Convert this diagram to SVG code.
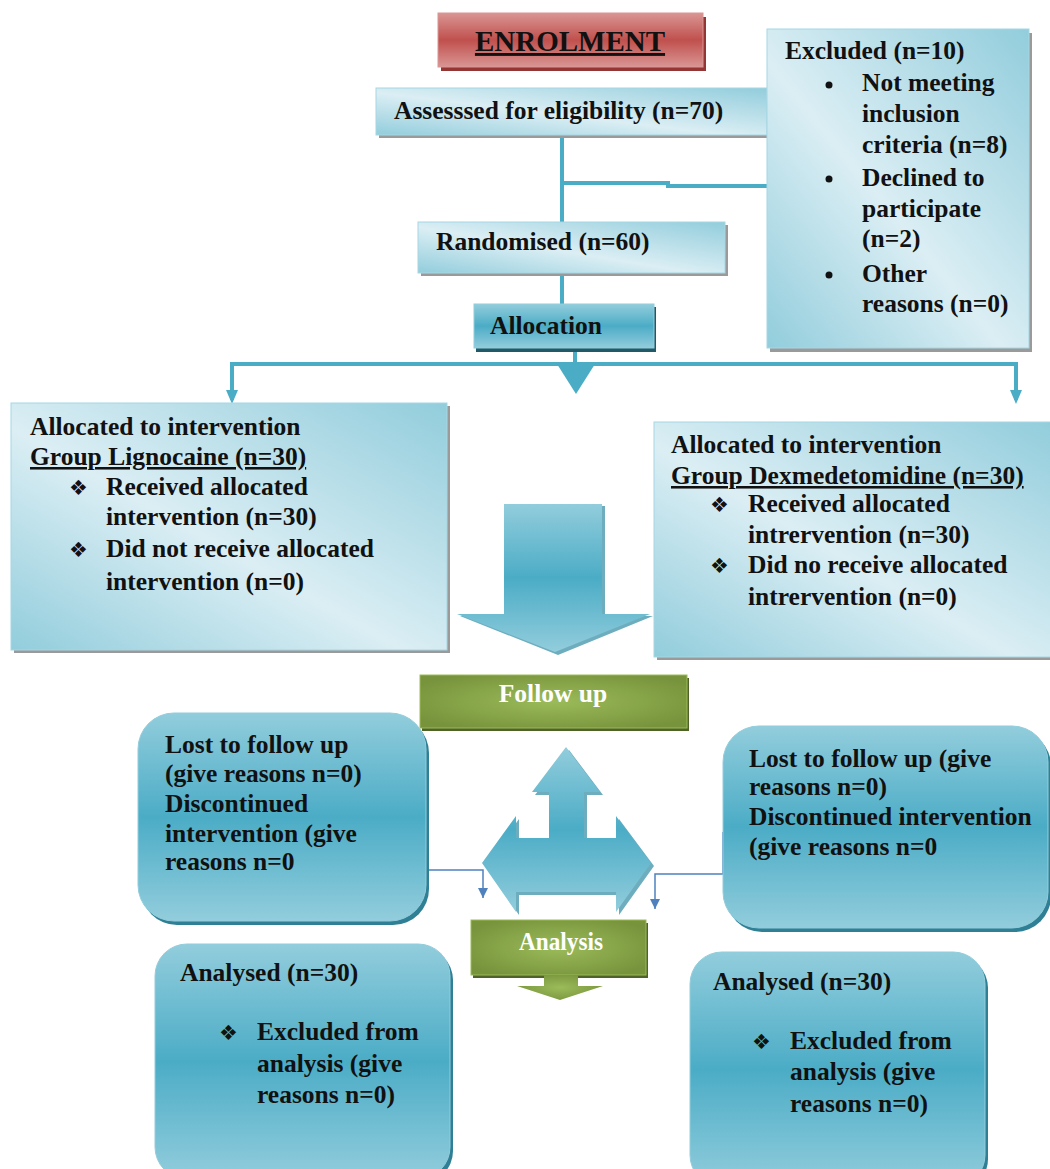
<svg xmlns="http://www.w3.org/2000/svg" width="1050" height="1169" viewBox="0 0 1050 1169">
<defs>
<linearGradient id="gLight" x1="0" y1="1" x2="1" y2="0">
<stop offset="0" stop-color="#92cddc"/>
<stop offset="0.45" stop-color="#dbeef4"/>
<stop offset="1" stop-color="#92cddc"/>
</linearGradient>
<linearGradient id="gMid" x1="0" y1="0" x2="0" y2="1">
<stop offset="0" stop-color="#92cddc"/>
<stop offset="0.5" stop-color="#4bacc6"/>
<stop offset="1" stop-color="#92cddc"/>
</linearGradient>
<linearGradient id="gRed" x1="0" y1="0" x2="0" y2="1">
<stop offset="0" stop-color="#d99694"/>
<stop offset="0.5" stop-color="#c0504d"/>
<stop offset="1" stop-color="#d99694"/>
</linearGradient>
<radialGradient id="gGreen" cx="0.5" cy="0.5" r="0.6">
<stop offset="0" stop-color="#9bbb59"/>
<stop offset="1" stop-color="#77933c"/>
</radialGradient>
<marker id="aThin" viewBox="0 0 10 10" refX="5" refY="10" markerWidth="10" markerHeight="10" markerUnits="userSpaceOnUse">
<path d="M0,0 L10,0 L5,10 Z" fill="#4f81bd"/>
</marker>
</defs>
<style>
text{font-family:"Liberation Serif","Times New Roman",serif;font-weight:bold;font-size:25.5px;fill:#111}
.bul{font-family:"DejaVu Sans",sans-serif;font-size:21px;font-weight:normal}
.wt{fill:#fff}
.u{text-decoration:underline}
.conn{stroke:#4bacc6;stroke-width:4;fill:none}
.thin{stroke:#4f81bd;stroke-width:1.5;fill:none}
.sh{fill:#9a9a9a}
.lt{fill:url(#gLight);stroke:#a6d6e3;stroke-width:1}
.rd{fill:url(#gMid);stroke:#92cddc;stroke-width:1}
</style>
<rect width="1050" height="1169" fill="#fff"/>

<g id="connectors">
<line class="conn" x1="562" y1="135" x2="562" y2="222"/>
<path class="conn" d="M562,183 H668 V186 H767"/>
<line class="conn" x1="562" y1="274" x2="562" y2="304"/>
<line class="conn" x1="575" y1="348" x2="575" y2="365"/>
<path class="conn" d="M232,400 V364 H1016 V400"/>
<path d="M226,390 L238,390 L232,404 Z" fill="#4bacc6"/>
<path d="M1010,390 L1022,390 L1016,404 Z" fill="#4bacc6"/>
<path d="M557,364 L595,364 L576,394 Z" fill="#4bacc6"/>
<path class="thin" d="M428,831 V870 H483 V898" marker-end="url(#aThin)"/>
<path class="thin" d="M723,832 V874 H655 V909" marker-end="url(#aThin)"/>
</g>

<g id="enrolment">
<rect x="441" y="17" width="265" height="54" fill="#943634"/>
<rect x="438" y="13" width="265" height="54" fill="url(#gRed)" stroke="#d99694"/>
<text x="570" y="51" text-anchor="middle" class="u" style="font-size:29px">ENROLMENT</text>
</g>

<g id="assessed">
<rect x="379" y="91" width="391" height="47" class="sh"/>
<rect x="376" y="88" width="391" height="47" fill="url(#gLight)" stroke="#a6d6e3"/>
<text x="394" y="119">Assesssed for eligibility (n=70)</text>
</g>

<g id="excluded">
<rect x="770" y="33" width="262" height="319" class="sh"/>
<rect x="767" y="29" width="262" height="319" class="lt"/>
<text x="785" y="59">Excluded (n=10)</text>
<circle cx="829" cy="85" r="3.5" fill="#111"/>
<circle cx="829" cy="179" r="3.5" fill="#111"/>
<circle cx="829" cy="275" r="3.5" fill="#111"/>
<text x="862" y="91">Not meeting</text>
<text x="862" y="122">inclusion</text>
<text x="862" y="153">criteria (n=8)</text>
<text x="862" y="186">Declined to</text>
<text x="862" y="217">participate</text>
<text x="862" y="247">(n=2)</text>
<text x="862" y="282">Other</text>
<text x="862" y="312">reasons (n=0)</text>
</g>

<g id="randomised">
<rect x="421" y="225" width="307" height="51" class="sh"/>
<rect x="418" y="222" width="307" height="51" class="lt"/>
<text x="436" y="250">Randomised (n=60)</text>
</g>

<g id="allocation">
<rect x="476" y="307" width="180" height="45" fill="#215968"/>
<rect x="474" y="304" width="180" height="44" fill="url(#gMid)" stroke="#92cddc"/>
<text x="490" y="334">Allocation</text>
</g>

<g id="group-lignocaine">
<rect x="14" y="406" width="436" height="247" class="sh"/>
<rect x="11" y="403" width="436" height="247" class="lt"/>
<text x="30" y="435">Allocated to intervention</text>
<text x="30" y="465" class="u">Group Lignocaine (n=30)</text>
<text x="69" y="495" class="bul">❖</text>
<text x="106" y="495">Received allocated</text>
<text x="106" y="525">intervention (n=30)</text>
<text x="69" y="557" class="bul">❖</text>
<text x="106" y="557">Did not receive allocated</text>
<text x="106" y="590">intervention (n=0)</text>
</g>

<g id="group-dexmedetomidine">
<rect x="657" y="425" width="396" height="235" class="sh"/>
<rect x="654" y="422" width="400" height="235" class="lt"/>
<text x="671" y="453">Allocated to intervention</text>
<text x="671" y="484" class="u">Group Dexmedetomidine (n=30)</text>
<text x="710" y="512" class="bul">❖</text>
<text x="748" y="512">Received allocated</text>
<text x="748" y="543">intrervention (n=30)</text>
<text x="710" y="573" class="bul">❖</text>
<text x="748" y="573">Did no receive allocated</text>
<text x="748" y="605">intrervention (n=0)</text>
</g>

<g id="big-arrow">
<polygon points="507,506 605,506 605,616 653,616 558,655 460,616 507,616" fill="#2f8aa3" opacity="0.7"/>
<polygon points="504,504 602,504 602,614 650,614 555,652 457,614 504,614" fill="url(#gMid)"/>
</g>

<g id="follow-up">
<rect x="422" y="678" width="267" height="53" fill="#4f6228"/>
<rect x="420" y="675" width="267" height="53" fill="url(#gGreen)" stroke="#9bbb59"/>
<text x="553" y="702" text-anchor="middle" class="wt">Follow up</text>
</g>

<g id="lost-left">
<rect x="141" y="717" width="288" height="208" rx="36" fill="#2f7f95"/>
<rect x="138" y="713" width="288" height="208" rx="36" class="rd"/>
<text x="165" y="753">Lost to follow up</text>
<text x="165" y="782">(give reasons n=0)</text>
<text x="165" y="812">Discontinued</text>
<text x="165" y="842">intervention (give</text>
<text x="165" y="870">reasons n=0</text>
</g>

<g id="tri-arrow">
<polygon points="569,750 603,795 587,795 587,841 619,841 619,819 654,866 619,915 619,895 519,895 519,915 485,866 519,819 519,841 552,841 552,795 535,795" fill="#2f8aa3" opacity="0.7"/>
<polygon points="566,747 600,792 584,792 584,838 616,838 616,816 651,863 616,912 616,892 516,892 516,912 482,863 516,816 516,838 549,838 549,792 532,792" fill="url(#gMid)"/>
</g>

<g id="lost-right">
<rect x="726" y="730" width="325" height="202" rx="36" fill="#2f7f95"/>
<rect x="723" y="726" width="325" height="202" rx="36" class="rd"/>
<text x="749" y="767">Lost to follow up (give</text>
<text x="749" y="795">reasons n=0)</text>
<text x="749" y="825">Discontinued intervention</text>
<text x="749" y="855">(give reasons n=0</text>
</g>

<g id="analysis">
<rect x="473" y="923" width="175" height="55" fill="#4f6228"/>
<rect x="471" y="920" width="175" height="55" fill="url(#gGreen)" stroke="#9bbb59"/>
<polygon points="544,975 578,975 578,986 603,986 560,1000 517,986 544,986" fill="url(#gGreen)"/>
<text x="519" y="950" class="wt" textLength="84" lengthAdjust="spacingAndGlyphs">Analysis</text>
</g>

<g id="analysed-left">
<rect x="158" y="948" width="295" height="235" rx="32" fill="#2f7f95"/>
<rect x="155" y="944" width="295" height="235" rx="32" class="rd"/>
<text x="180" y="981">Analysed (n=30)</text>
<text x="219" y="1040" class="bul">❖</text>
<text x="257" y="1040">Excluded from</text>
<text x="257" y="1072">analysis (give</text>
<text x="257" y="1103">reasons n=0)</text>
</g>

<g id="analysed-right">
<rect x="693" y="956" width="295" height="235" rx="32" fill="#2f7f95"/>
<rect x="690" y="952" width="295" height="235" rx="32" class="rd"/>
<text x="713" y="990">Analysed (n=30)</text>
<text x="752" y="1049" class="bul">❖</text>
<text x="790" y="1049">Excluded from</text>
<text x="790" y="1080">analysis (give</text>
<text x="790" y="1112">reasons n=0)</text>
</g>
</svg>
